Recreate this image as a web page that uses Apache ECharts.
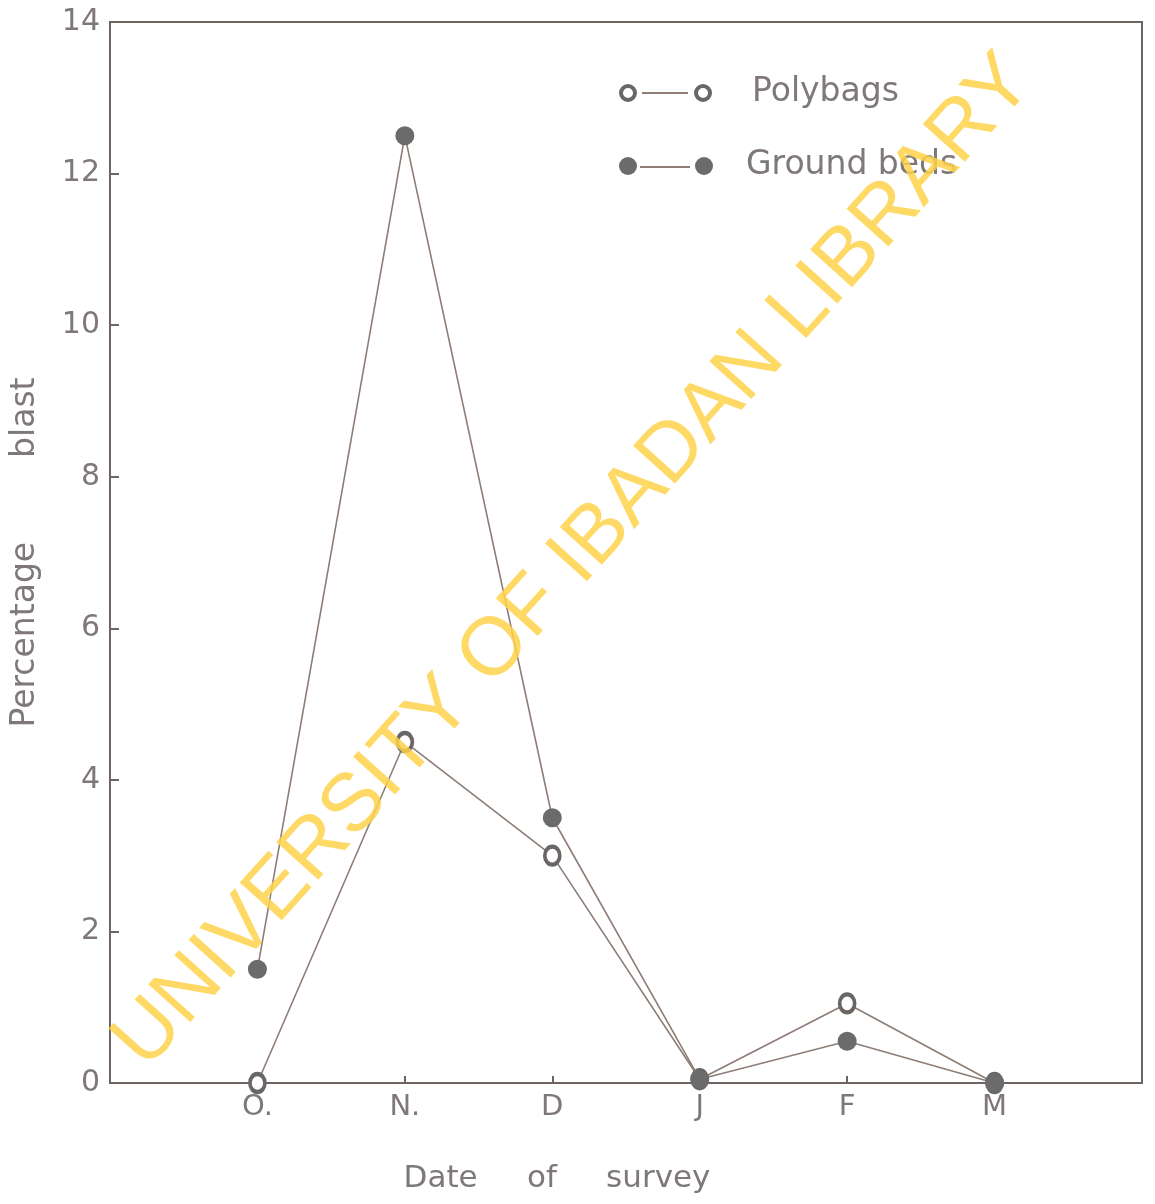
<!DOCTYPE html>
<html>
<head>
<meta charset="utf-8">
<script src="https://cdn.jsdelivr.net/npm/echarts@6/dist/echarts.min.js"></script>
<style>
  html, body { margin: 0; padding: 0; background: #fff; }
  #main { width: 1155px; height: 1204px; }
</style>
</head>
<body>
<div id="main"></div>
<script>
  // data
  var categories = ['O.', 'N.', 'D', 'J', 'F', 'M'];
  var polybags = [0, 4.5, 3.0, 0.05, 1.05, 0];
  var groundBeds = [1.5, 12.5, 3.5, 0.05, 0.55, 0];
  var yTicks = [0, 2, 4, 6, 8, 10, 12, 14];

  var ink = '#6e635e';
  var lineInk = '#8d7d75';
  var textInk = '#7f7878';

  function toPoints(values) {
    return values.map(function (v, i) { return [i + 1, v]; });
  }

  var myChart = echarts.init(document.getElementById('main'));
  var option = {
    backgroundColor: '#fff',
    animation: false,
    grid: {
      left: 110, right: 13, top: 22, bottom: 121,
      show: true, borderColor: ink, borderWidth: 2
    },
    xAxis: {
      type: 'value',
      min: 0, max: 7, interval: 1,
      splitLine: { show: false },
      axisLine: { show: true, lineStyle: { color: ink, width: 2 } },
      axisTick: { show: true, inside: true, length: 7, lineStyle: { color: ink, width: 2 } },
      axisLabel: {
        color: textInk, fontSize: 29, fontFamily: 'DejaVu Sans', margin: 10,
        formatter: function (v) { return categories[v - 1] || ''; }
      },
      name: 'Date     of     survey',
      nameLocation: 'middle',
      nameGap: 80,
      nameTextStyle: { color: textInk, fontSize: 31, fontFamily: 'DejaVu Sans', padding: [0, 138, 0, 0] }
    },
    yAxis: {
      type: 'value',
      min: yTicks[0], max: yTicks[yTicks.length - 1], interval: 2,
      splitLine: { show: false },
      axisLine: { show: true, lineStyle: { color: ink, width: 2 } },
      axisTick: { show: true, inside: true, length: 9, lineStyle: { color: ink, width: 2 } },
      axisLabel: { color: textInk, fontSize: 30, fontFamily: 'DejaVu Sans', margin: 10 },
      name: 'Percentage        blast',
      nameLocation: 'middle',
      nameRotate: 90,
      nameGap: 68,
      nameTextStyle: { color: textInk, fontSize: 33, fontFamily: 'DejaVu Sans' }
    },
    series: [
      {
        name: 'Polybags',
        type: 'line',
        data: toPoints(polybags),
        symbol: 'circle',
        symbolSize: [15, 18],
        z: 2,
        lineStyle: { color: lineInk, width: 1.6 },
        itemStyle: { color: '#fff', borderColor: '#6a6666', borderWidth: 4 }
      },
      {
        name: 'Ground beds',
        type: 'line',
        data: toPoints(groundBeds),
        symbol: 'circle',
        symbolSize: 19,
        z: 3,
        lineStyle: { color: lineInk, width: 1.6 },
        itemStyle: { color: '#6c6b6b' }
      }
    ],
    graphic: [
      // legend
      { type: 'circle', shape: { cx: 628, cy: 93, r: 7 }, style: { fill: '#fff', stroke: '#6a6666', lineWidth: 4 } },
      { type: 'line', shape: { x1: 642, y1: 93, x2: 688, y2: 93 }, style: { stroke: lineInk, lineWidth: 2 } },
      { type: 'circle', shape: { cx: 703, cy: 93, r: 7 }, style: { fill: '#fff', stroke: '#6a6666', lineWidth: 4 } },
      { type: 'text', x: 752, y: 92, style: { text: 'Polybags', fill: textInk, font: '33px "DejaVu Sans"', verticalAlign: 'middle' } },
      { type: 'circle', shape: { cx: 628, cy: 166, r: 9 }, style: { fill: '#6c6b6b' } },
      { type: 'line', shape: { x1: 640, y1: 167, x2: 690, y2: 167 }, style: { stroke: lineInk, lineWidth: 2 } },
      { type: 'circle', shape: { cx: 704, cy: 166, r: 9 }, style: { fill: '#6c6b6b' } },
      { type: 'text', x: 746, y: 165, style: { text: 'Ground beds', fill: textInk, font: '33px "DejaVu Sans"', verticalAlign: 'middle' } },
      // watermark
      {
        type: 'text', x: 574, y: 562, rotation: 48 * Math.PI / 180, z: 100,
        style: {
          text: 'UNIVERSITY OF IBADAN LIBRARY',
          fill: '#ffd24a', opacity: 0.85,
          font: '82px "Liberation Sans"',
          align: 'center', verticalAlign: 'middle'
        }
      }
    ]
  };
  myChart.setOption(option);
</script>
</body>
</html>
